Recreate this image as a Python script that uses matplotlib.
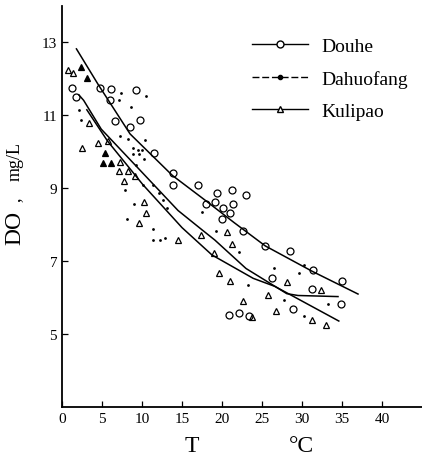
import matplotlib.pyplot as plt
from matplotlib.lines import Line2D

plt.rcParams['font.family'] = ['Liberation Serif', 'DejaVu Serif']

# Fitted curves
douhe_curve_t = [1.8, 4.5, 8.5, 13.8, 17.9, 21.5, 25.4, 31.3, 37.0]
douhe_curve_do = [12.82, 11.85, 10.49, 9.35, 8.67, 8.06, 7.42, 6.72, 6.1]
dahuo_curve_t = [2.1, 2.7, 4.9, 9.6, 14.5, 17.5, 19.1, 23.0, 28.1, 29.5, 34.5]
dahuo_curve_do = [11.56, 11.41, 10.62, 9.53, 8.39, 7.86, 7.58, 6.8, 6.11, 6.06, 6.03]
kuli_curve_t = [3.1, 5.7, 10.1, 15.0, 18.75, 23.9, 26.6, 28.8, 34.6]
kuli_curve_do = [11.15, 10.29, 9.1, 7.92, 7.17, 6.53, 6.31, 6.05, 5.36]

# Observations
douhe_t = [1.3, 1.8, 4.76, 6.07, 9.29, 5.95, 6.67, 8.45, 9.76, 11.46, 13.9, 13.9,
           17.0, 18.0, 19.1, 19.4, 21.3, 23.0, 20.1, 21.4, 21.05, 20.0, 22.6, 25.4,
           28.5, 31.4, 35.0, 26.2, 31.3, 34.9, 28.9, 20.9, 22.1, 23.4]
douhe_do = [11.74, 11.5, 11.76, 11.71, 11.68, 11.41, 10.85, 10.67, 10.87, 9.96, 9.43, 9.1,
            9.1, 8.56, 8.61, 8.86, 8.94, 8.81, 8.47, 8.56, 8.33, 8.17, 7.83, 7.42,
            7.28, 6.75, 6.47, 6.53, 6.25, 5.83, 5.69, 5.53, 5.58, 5.5]

dahuo_t = [2.14, 2.38, 7.38, 7.14, 8.57, 10.5, 7.26, 8.21, 10.37, 8.81, 9.52, 10.0,
           8.93, 9.64, 10.24, 9.29, 10.12, 11.34, 12.07, 7.86, 9.05, 12.56, 13.17, 8.1,
           11.34, 12.9, 11.34, 12.3, 17.5, 19.25, 22.1, 26.5, 23.2, 29.6, 30.2, 27.7,
           30.2, 33.2]
dahuo_do = [11.15, 10.87, 11.62, 11.41, 11.24, 11.53, 10.42, 10.34, 10.32, 10.09, 10.04, 10.06,
            9.94, 9.94, 9.81, 9.63, 9.08, 9.08, 8.86, 8.94, 8.56, 8.69, 8.47, 8.17,
            7.89, 7.64, 7.58, 7.58, 8.36, 7.83, 7.25, 6.81, 6.36, 6.67, 6.89, 5.94,
            5.5, 5.83]

kuli_t = [2.5, 4.52, 5.71, 3.33, 7.14, 7.74, 8.21, 9.17, 7.26, 10.24, 10.49, 9.64,
          14.51, 17.4, 20.66, 21.2, 19.0, 19.6, 21.05, 22.6, 25.8, 26.8, 28.1, 32.4,
          31.3, 32.98, 23.8, 0.7, 1.4]
kuli_do = [10.11, 10.24, 10.29, 10.8, 9.46, 9.2, 9.48, 9.33, 9.71, 8.61, 8.33, 8.06,
           7.58, 7.72, 7.81, 7.47, 7.22, 6.67, 6.47, 5.92, 6.06, 5.64, 6.42, 6.22,
           5.39, 5.25, 5.47, 12.24, 12.15]
kuli_filled_t = [2.4, 3.1, 5.36, 5.12, 6.07]
kuli_filled_do = [12.32, 12.03, 9.96, 9.68, 9.68]

xticks = [0, 5, 10, 15, 20, 25, 30, 35, 40]
yticks = [5, 7, 9, 11, 13]

fig = plt.figure(figsize=(4.22, 4.56), dpi=100)
ax = fig.add_axes([0.147, 0.105, 0.853, 0.88])

ax.plot(douhe_curve_t, douhe_curve_do, color='black', lw=1.1)
ax.plot(dahuo_curve_t, dahuo_curve_do, color='black', lw=1.1)
ax.plot(kuli_curve_t, kuli_curve_do, color='black', lw=1.1)

ax.plot(douhe_t, douhe_do, 'o', ms=5, mfc='none', mec='black', mew=0.9)
ax.plot(dahuo_t, dahuo_do, 'o', ms=2.0, mfc='black', mec='black', mew=0)
ax.plot(kuli_t, kuli_do, '^', ms=4.2, mfc='none', mec='black', mew=0.9)
ax.plot(kuli_filled_t, kuli_filled_do, '^', ms=4.2, mfc='black', mec='black', mew=0.9)

ax.set_xlim(0, 45)
ax.set_ylim(3, 14)
ax.set_xticks(xticks)
ax.set_yticks(yticks)
ax.tick_params(direction='in', length=4, width=0.9, labelsize=11)
for side in ['top', 'right']:
    ax.spines[side].set_visible(False)
for side in ['left', 'bottom']:
    ax.spines[side].set_linewidth(1.3)

handles = [
    Line2D([], [], color='black', lw=1, marker='o', ms=5, mfc='white', mec='black'),
    Line2D([], [], color='black', lw=1, ls=(0, (5, 2)), marker='o', ms=3, mfc='black'),
    Line2D([], [], color='black', lw=1, marker='^', ms=3.8, mfc='white', mec='black'),
]
ax.legend(handles, ['Douhe', 'Dahuofang', 'Kulipao'], loc='upper left',
          bbox_to_anchor=(0.5, 0.945), frameon=False, fontsize=14,
          handlelength=2.9, handletextpad=0.7, labelspacing=0.75,
          borderpad=0, numpoints=1)

fig.text(0.036, 0.5, 'DO', rotation=90, fontsize=17, ha='center', va='center')
fig.text(0.036, 0.562, ',', rotation=90, fontsize=13, ha='center', va='center')
fig.text(0.036, 0.645, 'mg/L', rotation=90, fontsize=13, ha='center', va='center')
fig.text(0.455, 0.009, 'T', fontsize=17, ha='center', va='baseline')
fig.text(0.715, 0.009, '°C', fontsize=17, ha='center', va='baseline')

fig.savefig('out.png', dpi=100)
